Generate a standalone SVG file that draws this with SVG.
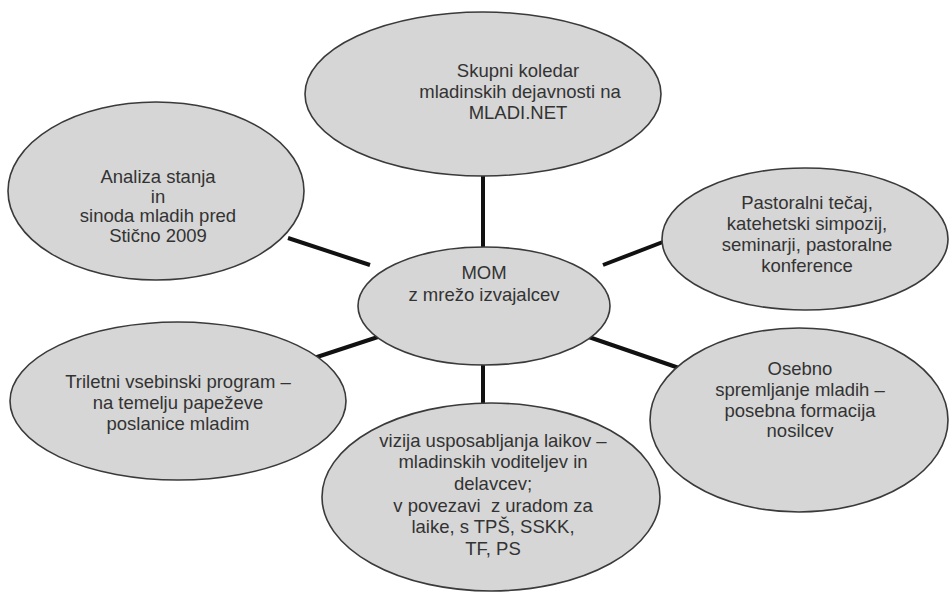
<svg xmlns="http://www.w3.org/2000/svg" width="951" height="595" viewBox="0 0 951 595">
<style>
.n{fill:#d6d6d6;stroke:#3a3a3a;stroke-width:1.6}
.t{font-family:"Liberation Sans",Arial,sans-serif;font-size:18.5px;fill:#333;text-anchor:middle}
.pre{white-space:pre}
.c line{stroke:#111;stroke-width:4}
</style>
<rect width="951" height="595" fill="#fff"/>
<g class="c" id="connectors">
<line x1="483" y1="174" x2="483" y2="250"/>
<line x1="288" y1="238" x2="370" y2="265"/>
<line x1="603" y1="265" x2="668" y2="240"/>
<line x1="387" y1="334" x2="314" y2="358"/>
<line x1="580" y1="334" x2="679" y2="368"/>
<line x1="483" y1="362" x2="483" y2="405"/>
</g>
<g id="top">
<ellipse class="n" cx="483" cy="94" rx="178" ry="82"/>
<text class="t"><tspan x="518" y="77">Skupni koledar</tspan><tspan x="520" y="98">mladinskih dejavnosti na</tspan><tspan x="518" y="119">MLADI.NET</tspan></text>
</g>
<g id="analiza">
<ellipse class="n" cx="156" cy="191" rx="148" ry="89"/>
<text class="t"><tspan x="158" y="183">Analiza stanja</tspan><tspan x="158" y="203">in</tspan><tspan x="158" y="222">sinoda mladih pred</tspan><tspan x="158" y="242">Stično 2009</tspan></text>
</g>
<g id="pastoralni">
<ellipse class="n" cx="805" cy="239" rx="143" ry="71"/>
<text class="t"><tspan x="807" y="209">Pastoralni tečaj,</tspan><tspan x="807" y="230">katehetski simpozij,</tspan><tspan x="807" y="251">seminarji, pastoralne</tspan><tspan x="807" y="272">konference</tspan></text>
</g>
<g id="mom">
<ellipse class="n" cx="484" cy="306" rx="126" ry="59"/>
<text class="t"><tspan x="484" y="279">MOM</tspan><tspan x="484" y="301">z mrežo izvajalcev</tspan></text>
</g>
<g id="triletni">
<ellipse class="n" cx="178" cy="401" rx="168" ry="79"/>
<text class="t"><tspan x="178" y="388">Triletni vsebinski program –</tspan><tspan x="178" y="409">na temelju papeževe</tspan><tspan x="178" y="430">poslanice mladim</tspan></text>
</g>
<g id="vizija">
<ellipse class="n" cx="491" cy="497" rx="169" ry="94"/>
<text class="t pre"><tspan x="493" y="447">vizija usposabljanja laikov –</tspan><tspan x="493" y="468">mladinskih voditeljev in</tspan><tspan x="493" y="490">delavcev;</tspan><tspan x="493" y="512">v povezavi  z uradom za</tspan><tspan x="493" y="533">laike, s TPŠ, SSKK,</tspan><tspan x="493" y="555">TF, PS</tspan></text>
</g>
<g id="osebno">
<ellipse class="n" cx="799" cy="420" rx="149" ry="92"/>
<text class="t"><tspan x="800" y="375">Osebno</tspan><tspan x="800" y="396">spremljanje mladih –</tspan><tspan x="800" y="417">posebna formacija</tspan><tspan x="800" y="437">nosilcev</tspan></text>
</g>
</svg>
